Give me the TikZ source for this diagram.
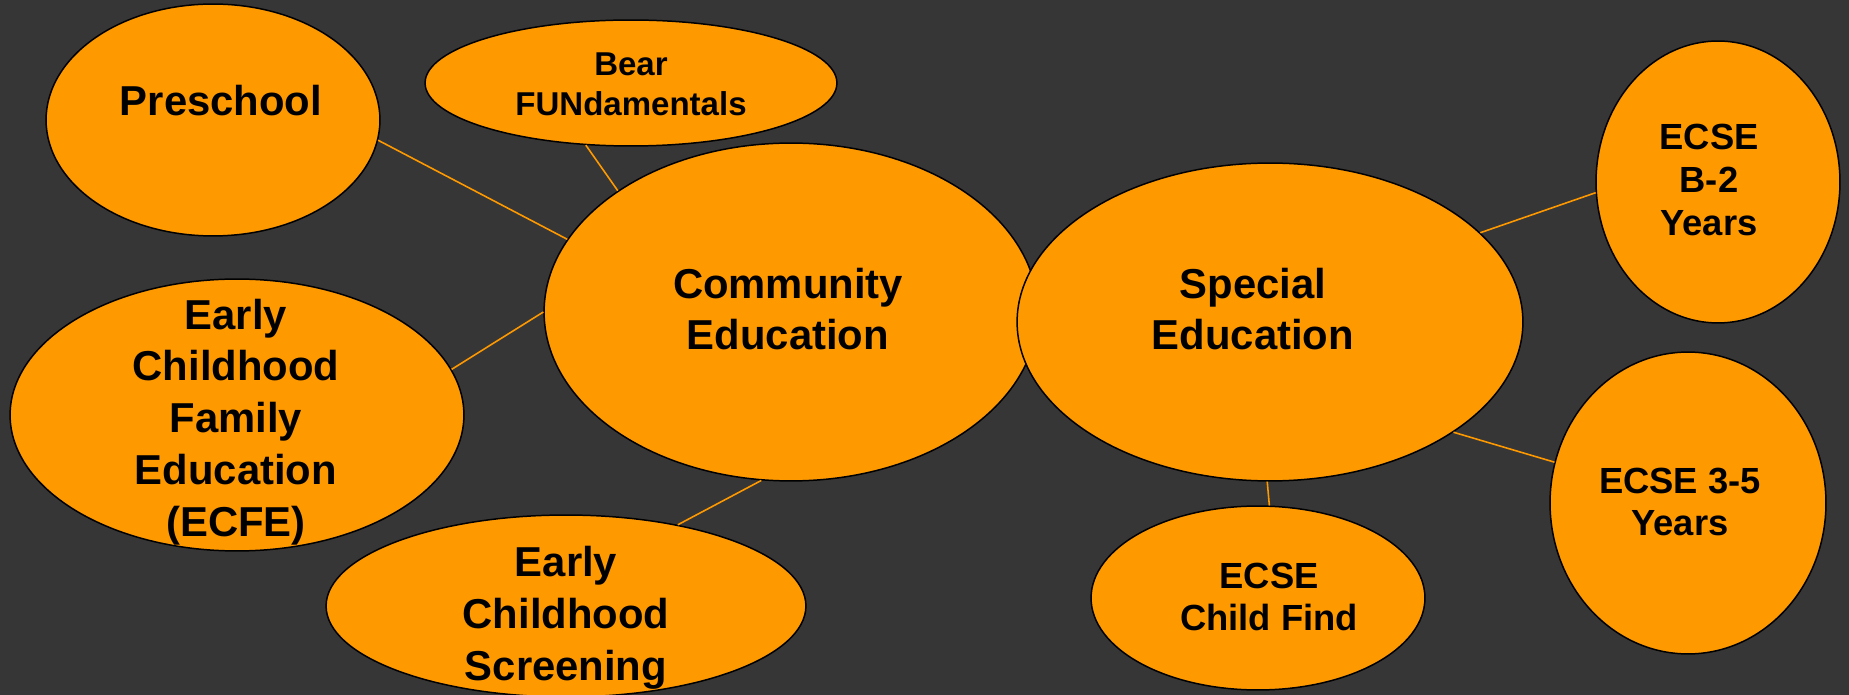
\documentclass[tikz,border=0pt]{standalone}
\usepackage{fontspec}
\setmainfont{Liberation Sans}
\usetikzlibrary{shapes.geometric}
\definecolor{bgC}{HTML}{363636}
\definecolor{orC}{HTML}{FF9900}
\begin{document}
\begin{tikzpicture}[x=0.02cm,y=-0.02cm,
  bub/.style 2 args={ellipse, draw=black, line width=0.85pt, fill=orC, inner sep=0pt,
    minimum width={#1*0.04cm}, minimum height={#2*0.04cm}},
  lbl/.style={align=center, text=black, inner sep=0pt, font=\bfseries\fontsize{23.8}{29.5}\selectfont},
  lblm/.style={align=center, text=black, inner sep=0pt, font=\bfseries\fontsize{20.7}{24.4}\selectfont},
  lbls/.style={align=center, text=black, inner sep=0pt, font=\bfseries\fontsize{18.8}{22.7}\selectfont},
  conn/.style={draw=orC, line width=0.9pt}]
\fill[bgC] (0,0) rectangle (1849,695);
\useasboundingbox (0,0) rectangle (1849,695);

\node[bub={167}{116}] (pre) at (213,120) {};
\node[bub={206}{63}] (bear) at (631,83) {};
\node[bub={247}{169}] (com) at (791,312) {};
\node[bub={227}{136}] (ecfe) at (237,415) {};
\node[bub={240}{91}] (scr) at (566,606) {};
\node[bub={253}{159}] (spe) at (1270,322) {};
\node[bub={122}{141}] (b2) at (1718,182) {};
\node[bub={138}{151}] (y35) at (1688,503) {};
\node[bub={167}{92}] (cf) at (1258,598) {};

\node[lbl] (preT) at (221,101) {Preschool};
\node[lbls] (bearT) at (631,84) {Bear\\FUNdamentals};
\node[lbl] (comT) at (788,309) {Community\\Education};
\node[lbl] (ecfeT) at (236,422) {Early\\Childhood\\Family\\Education\\(ECFE)};
\node[lbl] (scrT) at (566,618) {Early\\Childhood\\Screening};
\node[lbl] (speT) at (1253,309) {Special\\Education};
\node[lblm] (b2T) at (1709,180) {ECSE\\B-2\\Years};
\node[lblm] (y35T) at (1680,502) {ECSE 3-5\\Years};
\node[lblm] (cfT) at (1269,597) {ECSE\\Child Find};

\draw[conn] (pre.-7.6) -- (com.162.3);
\draw[conn] (bear.234.5) -- (com.145.3);
\draw[conn] (ecfe.12.8) -- (com.180);
\draw[conn] (scr.36.3) -- (com.260.6);
\draw[conn] (spe.23.2) -- (b2.185.7);
\draw[conn] (spe.-31.4) -- (y35.163);
\draw[conn] (spe.-91.4) -- (cf.83.7);
\end{tikzpicture}
\end{document}
